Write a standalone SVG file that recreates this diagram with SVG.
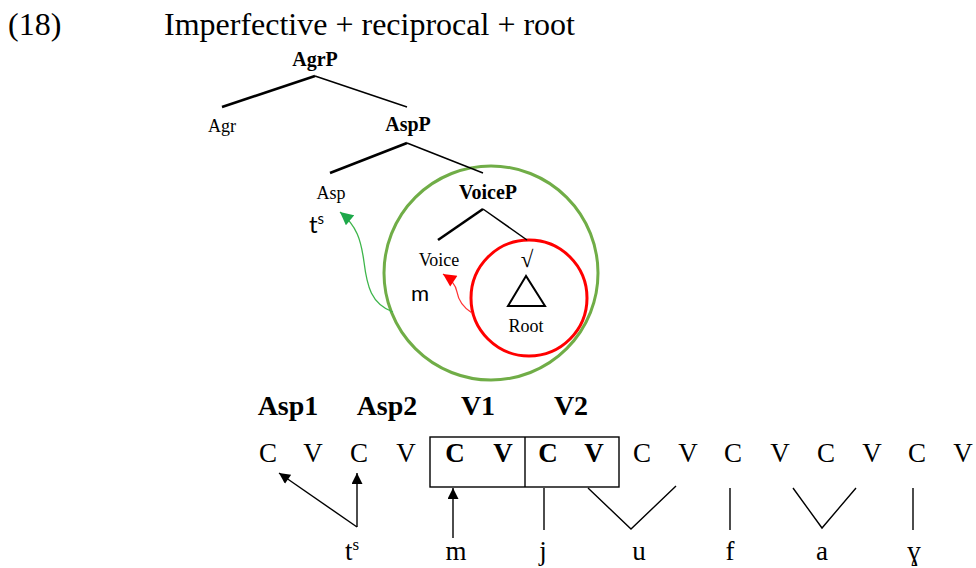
<svg xmlns="http://www.w3.org/2000/svg" width="976" height="568" viewBox="0 0 976 568">
<defs>
<style>
.ser{font-family:"Liberation Serif","Times New Roman",serif;fill:#000}
.title{font-size:32px}
.tree{font-size:18px;text-anchor:middle}
.treeb{font-size:20px;font-weight:bold;text-anchor:middle}
.b{font-weight:bold}
.hdr{font-size:28px;font-weight:bold;text-anchor:middle}
.cv{font-size:27px;text-anchor:middle}
.sans{font-family:Lato,"Open Sans",sans-serif;fill:#000}
.br{stroke:#000;fill:none}
.thick{stroke-width:2.6}
.thin{stroke-width:1.5}
.ln{stroke:#000;stroke-width:1.4;fill:none}
</style>
<marker id="ahB" viewBox="0 0 10 10" refX="10" refY="5" markerUnits="userSpaceOnUse" markerWidth="13" markerHeight="11" orient="auto">
<path d="M0,0 L10,5 L0,10 z" fill="#000"/>
</marker>
<marker id="ahG" viewBox="0 0 10 10" refX="10" refY="5" markerUnits="userSpaceOnUse" markerWidth="14" markerHeight="13" orient="auto">
<path d="M0,0 L10,5 L0,10 z" fill="#1EA84A"/>
</marker>
<marker id="ahR" viewBox="0 0 10 10" refX="10" refY="5" markerUnits="userSpaceOnUse" markerWidth="14" markerHeight="13" orient="auto">
<path d="M0,0 L10,5 L0,10 z" fill="#FF0000"/>
</marker>
</defs>
<rect width="976" height="568" fill="#fff"/>

<g id="title">
<text class="ser title" x="8" y="35">(18)</text>
<text class="ser title" x="164" y="35">Imperfective + reciprocal + root</text>
</g>

<g id="circles">
<circle id="green-circle" cx="491" cy="273" r="107" fill="none" stroke="#70AD47" stroke-width="3"/>
<circle id="red-circle" cx="529" cy="298" r="58" fill="none" stroke="#FF0000" stroke-width="3"/>
</g>

<g id="tree-nodes">
<g id="AgrP"><text class="ser treeb" x="315" y="66">AgrP</text></g>
<g id="Agr"><text class="ser tree" x="222" y="132">Agr</text></g>
<g id="AspP"><text class="ser treeb" x="408" y="131">AspP</text></g>
<g id="Asp"><text class="ser tree" x="331" y="199">Asp</text></g>
<g id="VoiceP"><text class="ser treeb" x="488" y="199">VoiceP</text></g>
<g id="Voice"><text class="ser tree" x="439" y="266">Voice</text></g>
<g id="root-sign"><text class="ser tree" x="527" y="267" style="font-size:23px">√</text></g>
<g id="Root">
<polygon points="526,276 508,306 545,306" fill="none" stroke="#000" stroke-width="2"/>
<text class="ser tree" x="526" y="332">Root</text>
</g>
<g id="ts-tree"><text class="sans" x="309" y="233" font-size="24">t<tspan dy="-9" font-size="15">s</tspan></text></g>
<g id="m-tree"><text class="sans" x="411" y="301" font-size="22">m</text></g>
</g>

<g id="connectors">
<path class="br thick" d="M222,107 L315,76"/>
<path class="br thin" d="M315,76 L407,107"/>
<path class="br thick" d="M330,173 L407,143"/>
<path class="br thin" d="M407,143 L483,173"/>
<path class="br thick" d="M438,240 L483,209"/>
<path class="br thin" d="M483,209 L527,240"/>
<path d="M393,312 C371,304 367,286 364,262 C361,240 357,226 340,212" fill="none" stroke="#3DB54A" stroke-width="1.3" marker-end="url(#ahG)"/>
<path d="M472,313 C461,306 458,298 457,292 C456,285 452,280 443,274" fill="none" stroke="#FF3333" stroke-width="1.3" marker-end="url(#ahR)"/>
<line class="ln" x1="357" y1="527" x2="279" y2="473" marker-end="url(#ahB)"/>
<line class="ln" x1="357" y1="527" x2="357" y2="473" marker-end="url(#ahB)"/>
<line class="ln" x1="453" y1="538" x2="453" y2="488" marker-end="url(#ahB)"/>
<line class="ln" x1="544" y1="488" x2="544" y2="530"/>
<polyline class="ln" points="588,488 631,529 676,486"/>
<line class="ln" x1="730" y1="488" x2="730" y2="530"/>
<polyline class="ln" points="793,488 822,528 856,488"/>
<line class="ln" x1="913" y1="488" x2="913" y2="530"/>
</g>

<g id="headers">
<text class="ser hdr" x="288" y="415">Asp1</text>
<text class="ser hdr" x="387" y="415">Asp2</text>
<text class="ser hdr" x="478" y="415">V1</text>
<text class="ser hdr" x="571" y="415">V2</text>
</g>

<g id="box">
<rect x="430" y="437" width="189" height="50" fill="none" stroke="#000" stroke-width="1.4"/>
<line x1="525" y1="437" x2="525" y2="487" stroke="#000" stroke-width="1.4"/>
</g>

<g id="cv-row">
<text class="ser cv" x="268" y="462">C</text>
<text class="ser cv" x="313" y="462">V</text>
<text class="ser cv" x="359" y="462">C</text>
<text class="ser cv" x="406" y="462">V</text>
<text class="ser cv b" x="455" y="462">C</text>
<text class="ser cv b" x="503" y="462">V</text>
<text class="ser cv b" x="548" y="462">C</text>
<text class="ser cv b" x="594" y="462">V</text>
<text class="ser cv" x="642" y="462">C</text>
<text class="ser cv" x="688" y="462">V</text>
<text class="ser cv" x="733" y="462">C</text>
<text class="ser cv" x="780" y="462">V</text>
<text class="ser cv" x="826" y="462">C</text>
<text class="ser cv" x="872" y="462">V</text>
<text class="ser cv" x="917" y="462">C</text>
<text class="ser cv" x="963" y="462">V</text>
</g>

<g id="segments">
<text class="ser cv" x="352" y="560">t<tspan dy="-10" font-size="17">s</tspan></text>
<text class="ser cv" x="456" y="560">m</text>
<text class="ser cv" x="543" y="560">j</text>
<text class="ser cv" x="639" y="560">u</text>
<text class="ser cv" x="730" y="560">f</text>
<text class="ser cv" x="822" y="560">a</text>
<text class="ser cv" x="914" y="560">ɣ</text>
</g>
</svg>
